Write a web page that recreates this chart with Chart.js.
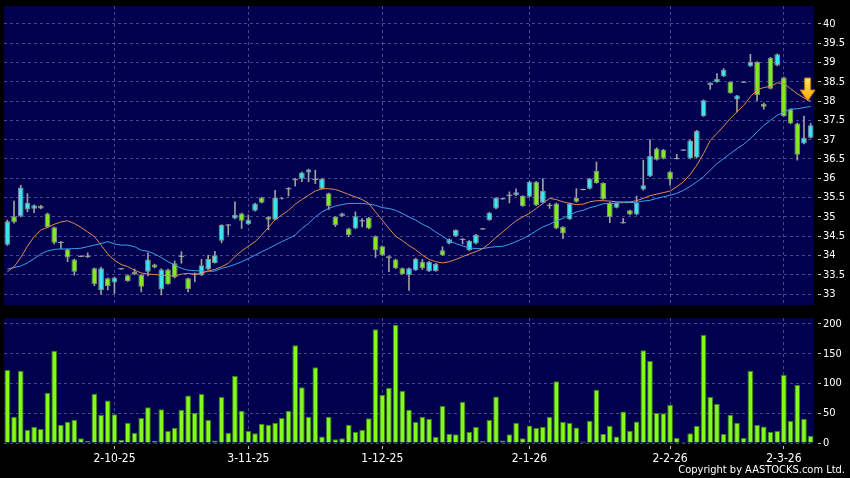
<!DOCTYPE html>
<html>
<head>
<meta charset="utf-8">
<script src="https://cdn.jsdelivr.net/npm/chart.js@4.4.1/dist/chart.umd.min.js"></script>
<style>
  body { margin: 0; background: #000; width: 850px; height: 478px; overflow: hidden; position: relative; }
  #priceChart { position: absolute; left: 0; top: 0; }
  #volChart { position: absolute; left: 0; top: 310px; }
  #copy { position: absolute; right: 5px; top: 463px; color: #fff; font: 11px 'DejaVu Sans Condensed', 'DejaVu Sans', sans-serif; white-space: nowrap; }
</style>
</head>
<body>
<canvas id="priceChart" width="850" height="310"></canvas>
<canvas id="volChart" width="850" height="168"></canvas>
<div id="copy">Copyright by AASTOCKS.com Ltd.</div>
<script>
// daily candles, oldest first
const opens  = [34.28,35.02,35.02,35.19,35.21,35.29,35.09,34.73,34.34,34.16,33.90,33.98,33.98,33.67,33.11,33.41,33.30,33.66,33.49,33.58,
                33.50,33.58,33.77,33.12,33.64,33.80,33.98,33.41,33.52,33.49,33.64,33.81,34.38,34.79,34.96,35.09,34.81,35.16,35.50,35.00,
                34.93,35.49,35.73,35.99,35.99,36.15,35.97,35.73,35.61,35.00,35.02,34.70,34.70,34.90,34.98,34.50,34.24,33.98,33.90,33.67,
                33.49,33.62,33.84,33.60,33.60,34.14,34.31,34.50,34.42,34.14,34.31,34.69,34.92,35.22,35.47,35.56,35.56,35.54,35.52,35.91,
                35.37,35.30,35.35,34.74,34.94,35.49,35.71,35.73,36.19,35.88,35.37,35.24,34.85,35.17,35.06,35.71,36.05,36.77,36.74,36.17,
                36.51,36.73,36.51,36.54,37.61,38.41,38.49,38.64,38.49,38.04,38.49,38.90,39.01,37.93,39.12,38.92,38.61,37.79,37.42,36.90,
                37.05];
const highs  = [34.92,35.41,35.82,35.60,35.31,35.30,35.10,34.74,34.36,34.17,33.91,33.99,34.07,33.68,33.70,33.42,33.44,33.67,33.50,33.65,
                33.51,34.07,33.78,33.66,33.65,33.86,34.10,33.42,33.55,33.90,34.01,34.11,34.80,34.80,35.39,35.10,35.05,35.36,35.51,35.01,
                35.69,35.50,35.76,36.00,36.16,36.24,36.21,36.00,35.62,35.01,35.10,34.71,35.13,34.96,34.99,34.51,34.25,33.99,33.91,33.68,
                33.68,33.93,33.90,33.85,33.80,34.23,34.43,34.67,34.44,34.39,34.55,34.70,35.12,35.50,35.48,35.65,35.73,35.55,35.92,35.92,
                35.99,35.35,35.36,34.75,35.36,35.73,35.72,36.00,36.42,35.89,35.38,35.37,34.96,35.18,35.54,36.47,37.00,36.79,36.75,36.18,
                36.62,36.74,36.99,37.24,38.03,38.48,38.71,38.84,38.50,38.15,38.50,39.21,39.02,37.95,39.13,39.22,38.62,37.80,37.43,37.61,
                37.42];
const lows   = [34.26,34.84,35.00,35.13,35.11,35.21,34.72,34.30,34.18,33.84,33.49,33.97,33.95,33.22,33.00,33.11,33.02,33.65,33.33,33.50,
                33.06,33.47,33.68,32.98,33.25,33.42,33.80,33.06,33.32,33.48,33.63,33.80,34.33,34.53,34.95,34.70,34.80,35.15,35.36,34.67,
                34.92,35.46,35.54,35.80,35.91,35.91,35.86,35.72,35.19,34.75,35.01,34.49,34.69,34.74,34.69,33.95,34.00,33.58,33.66,33.51,
                33.10,33.61,33.64,33.58,33.59,34.00,34.30,34.49,34.30,34.13,34.30,34.68,34.91,35.21,35.46,35.36,35.55,35.27,35.51,35.29,
                35.36,35.22,34.69,34.44,34.93,35.38,35.70,35.72,35.87,35.45,34.85,35.23,34.84,35.05,35.05,35.69,36.04,36.47,36.50,35.82,
                36.50,36.72,36.50,36.53,37.60,38.30,38.48,38.63,38.20,37.72,38.48,38.89,38.00,37.79,38.31,38.91,37.60,37.41,36.47,36.89,
                37.04];
const closes = [34.89,34.86,35.76,35.37,35.30,35.22,34.74,34.33,34.34,33.95,33.58,33.98,33.98,33.26,33.67,33.21,33.43,33.66,33.34,33.52,
                33.19,33.90,33.69,33.64,33.26,33.43,33.98,33.13,33.53,33.75,33.92,34.01,34.79,34.79,35.05,34.90,34.93,35.35,35.37,34.93,
                35.50,35.47,35.73,35.94,36.15,36.23,35.97,35.99,35.28,34.79,35.09,34.53,35.02,34.90,34.70,34.14,34.01,33.93,33.67,33.52,
                33.67,33.92,33.67,33.84,33.79,34.01,34.42,34.66,34.42,34.38,34.54,34.69,35.11,35.49,35.47,35.56,35.64,35.28,35.91,35.30,
                35.67,35.30,34.70,34.57,35.35,35.39,35.71,35.99,35.88,35.46,35.00,35.36,34.85,35.06,35.36,35.82,36.58,36.48,36.51,35.97,
                36.51,36.73,36.98,37.23,38.02,38.47,38.58,38.81,38.21,38.14,38.49,39.01,38.15,37.85,38.32,39.21,37.61,37.42,36.61,37.05,
                37.37];

// moving averages
const maFast = [33.58,33.71,33.95,34.24,34.49,34.66,34.73,34.81,34.87,34.90,34.83,34.73,34.61,34.49,34.27,34.04,33.88,33.77,33.71,33.62,
                33.55,33.52,33.51,33.49,33.48,33.47,33.52,33.54,33.51,33.54,33.60,33.64,33.71,33.80,33.97,34.12,34.24,34.36,34.53,34.73,
                34.93,35.05,35.17,35.33,35.45,35.56,35.67,35.73,35.73,35.71,35.65,35.58,35.52,35.45,35.35,35.13,34.92,34.70,34.50,34.39,
                34.26,34.15,34.01,33.90,33.84,33.81,33.84,33.90,33.97,34.04,34.10,34.18,34.31,34.47,34.61,34.76,34.90,35.00,35.09,35.22,
                35.35,35.48,35.45,35.39,35.35,35.32,35.33,35.39,35.42,35.42,35.41,35.39,35.39,35.39,35.42,35.48,35.55,35.59,35.63,35.67,
                35.78,35.91,36.10,36.34,36.64,36.98,37.16,37.35,37.55,37.72,37.89,38.11,38.29,38.35,38.38,38.47,38.45,38.32,38.19,38.08,
                38.00];
const maSlow = [33.65,33.69,33.73,33.81,33.92,34.04,34.12,34.16,34.17,34.17,34.18,34.19,34.23,34.27,34.31,34.36,34.30,34.27,34.27,34.23,
                34.14,34.11,34.04,33.95,33.84,33.75,33.67,33.62,33.61,33.60,33.59,33.60,33.67,33.71,33.77,33.84,33.92,34.01,34.10,34.18,
                34.27,34.36,34.44,34.53,34.70,34.83,35.00,35.13,35.22,35.28,35.32,35.35,35.35,35.35,35.33,35.30,35.24,35.22,35.17,35.09,
                35.00,34.92,34.81,34.73,34.61,34.50,34.38,34.31,34.25,34.20,34.18,34.18,34.21,34.23,34.24,34.29,34.36,34.44,34.53,34.64,
                34.74,34.81,34.90,34.96,35.05,35.13,35.17,35.24,35.28,35.34,35.35,35.36,35.37,35.37,35.38,35.41,35.43,35.48,35.52,35.56,
                35.61,35.69,35.79,35.91,36.04,36.21,36.38,36.51,36.64,36.77,36.88,37.03,37.20,37.37,37.50,37.63,37.71,37.79,37.80,37.83,
                37.86];

const volumes = [122.6,44.2,121.5,21.8,27.4,23.4,84.5,155.1,30.2,35.8,39.1,7.8,3.3,82.8,47.5,71.6,48.1,5.5,34.1,17.3,
                 41.9,59.9,3.8,56.5,20.1,25.7,55.9,80.0,50.9,82.3,38.6,4.4,77.2,17.3,112.5,54.3,20.1,16.2,32.4,30.7,
                 34.1,41.9,54.3,164.1,93.5,44.2,127.1,11.1,44.2,6.1,7.8,30.7,19.0,22.3,41.4,191.0,81.1,92.9,198.8,87.9,
                 55.9,35.2,44.2,40.8,10.6,62.1,15.6,14.5,69.4,19.0,26.8,3.3,38.6,78.3,4.4,14.5,34.1,7.8,29.6,25.1,
                 27.4,43.6,103.6,35.2,33.5,26.2,2.7,37.4,89.5,15.6,29.0,11.1,53.1,20.6,36.3,155.7,137.7,50.3,49.8,64.3,
                 8.3,1.6,16.2,29.0,181.4,77.2,65.5,15.0,47.5,34.1,8.3,121.5,30.2,27.9,19.0,20.1,114.2,37.4,97.4,40.8,
                 12.2];

// date ticks (bar index -> label)
const tickIdx  = [16, 36, 56, 78, 99, 116];
const tickText = ['2-10-25', '3-11-25', '1-12-25', '2-1-26', '2-2-26', '2-3-26'];

const labels = opens.map((o, i) => String(i));

Chart.defaults.font.family = "'DejaVu Sans Condensed', 'DejaVu Sans', sans-serif";
Chart.defaults.color = '#ffffff';

const plotBg = '#00004e';
const gridColor = 'rgba(130,130,190,0.55)';
const upColor = '#3ce4f2';
const downColor = '#80ec1e';

const isDoji = closes.map((c, i) => Math.abs(c - opens[i]) < 0.015);
const bodyData = opens.map((o, i) => isDoji[i] ? [o - 0.013, o + 0.013] : [o, closes[i]]);
const bodyColors = opens.map((o, i) => isDoji[i] ? '#a8a8a8' : (closes[i] > o ? upColor : downColor));
const wickData = lows.map((l, i) => [l, highs[i]]);

const bgPlugin = {
  id: 'bgPlugin',
  beforeDraw(chart) {
    const a = chart.chartArea, ctx = chart.ctx;
    ctx.save();
    ctx.fillStyle = plotBg;
    ctx.fillRect(a.left, a.top, a.right - a.left, a.bottom - a.top);
    ctx.restore();
  }
};

// the down arrow sitting on the last point of the fast average
const arrowPlugin = {
  id: 'arrowPlugin',
  afterDatasetsDraw(chart) {
    const xs = chart.scales.x, ys = chart.scales.y, ctx = chart.ctx;
    const last = maFast.length - 1;
    const tx = xs.getPixelForValue(last) - 3;
    const ty = ys.getPixelForValue(maFast[last]);
    ctx.save();
    const g = ctx.createLinearGradient(0, ty - 23, 0, ty);
    g.addColorStop(0, '#ffe866');
    g.addColorStop(1, '#ffa400');
    ctx.beginPath();
    ctx.moveTo(tx - 3, ty - 23);
    ctx.lineTo(tx + 3, ty - 23);
    ctx.lineTo(tx + 3, ty - 11);
    ctx.lineTo(tx + 7.5, ty - 11);
    ctx.lineTo(tx, ty);
    ctx.lineTo(tx - 7.5, ty - 11);
    ctx.lineTo(tx - 3, ty - 11);
    ctx.closePath();
    ctx.fillStyle = g;
    ctx.fill();
    ctx.strokeStyle = '#b87818';
    ctx.lineWidth = 1;
    ctx.stroke();
    ctx.restore();
  }
};

const xGridColor = c => tickIdx.includes(c.index) ? gridColor : 'transparent';
const plainNum = v => String(+Number(v).toFixed(2));

new Chart(document.getElementById('priceChart'), {
  type: 'bar',
  data: {
    labels: labels,
    datasets: [
      { type: 'line', data: maFast, borderColor: '#e08a52', borderWidth: 1, pointRadius: 0, order: 0 },
      { type: 'line', data: maSlow, borderColor: '#3aa0ee', borderWidth: 1, pointRadius: 0, order: 0 },
      { data: bodyData, backgroundColor: bodyColors, borderColor: '#8c8c8c',
        borderWidth: isDoji.map(d => d ? 0 : 1), borderSkipped: false,
        barPercentage: 0.85, categoryPercentage: 1, grouped: false, order: 1 },
      { data: wickData, backgroundColor: '#a0a0a0', barThickness: 1, grouped: false, order: 2 }
    ]
  },
  options: {
    responsive: false,
    animation: false,
    layout: { padding: { left: 4, right: 0, top: 6, bottom: 5 } },
    plugins: { legend: { display: false }, tooltip: { enabled: false } },
    scales: {
      x: {
        offset: true,
        grid: { offset: false, drawTicks: false, color: xGridColor },
        border: { display: false, dash: [3, 3] },
        ticks: { display: false, autoSkip: false, maxRotation: 0 },
        afterFit: s => { s.height = 0; s.paddingLeft = 0; s.paddingRight = 0; }
      },
      y: {
        position: 'right',
        min: 32.72,
        max: 40.46,
        grid: { color: gridColor, tickLength: 7, tickColor: '#c0c0c0', tickBorderDash: [0, 4, 3, 20] },
        border: { display: false, dash: [3, 3] },
        ticks: { stepSize: 0.5, includeBounds: false, color: '#ffffff', padding: 2, font: { size: 11 }, callback: plainNum },
        afterFit: s => { s.width = 36; s.paddingTop = 0; s.paddingBottom = 0; }
      }
    }
  },
  plugins: [bgPlugin, arrowPlugin]
});

new Chart(document.getElementById('volChart'), {
  type: 'bar',
  data: {
    labels: labels,
    datasets: [
      { data: volumes, backgroundColor: '#84fa1c', borderColor: '#3e8212', borderWidth: 1,
        barPercentage: 0.85, categoryPercentage: 1 }
    ]
  },
  options: {
    responsive: false,
    animation: false,
    layout: { padding: { left: 4, right: 0, top: 8, bottom: 0 } },
    plugins: { legend: { display: false }, tooltip: { enabled: false } },
    scales: {
      x: {
        offset: true,
        grid: { offset: false, color: xGridColor, tickLength: 6,
                tickColor: c => tickIdx.includes(c.index) ? '#c0c0c0' : 'transparent',
                tickBorderDash: [0, 3, 3, 20] },
        border: { display: false, dash: [3, 3] },
        ticks: {
          autoSkip: false, maxRotation: 0, minRotation: 0, color: '#ffffff', padding: 3, font: { size: 12 },
          callback: (v, i) => { const k = tickIdx.indexOf(i); return k >= 0 ? tickText[k] : ''; }
        },
        afterFit: s => { s.height = 35; s.paddingLeft = 0; s.paddingRight = 0; }
      },
      y: {
        position: 'right',
        min: 0,
        max: 210,
        grid: { color: gridColor, tickLength: 7, tickColor: '#c0c0c0', tickBorderDash: [0, 4, 3, 20] },
        border: { display: false, dash: [3, 3] },
        ticks: { stepSize: 50, includeBounds: false, color: '#ffffff', padding: 2, font: { size: 11 }, callback: plainNum },
        afterFit: s => { s.width = 36; s.paddingTop = 0; s.paddingBottom = 0; }
      }
    }
  },
  plugins: [bgPlugin]
});
</script>
</body>
</html>
